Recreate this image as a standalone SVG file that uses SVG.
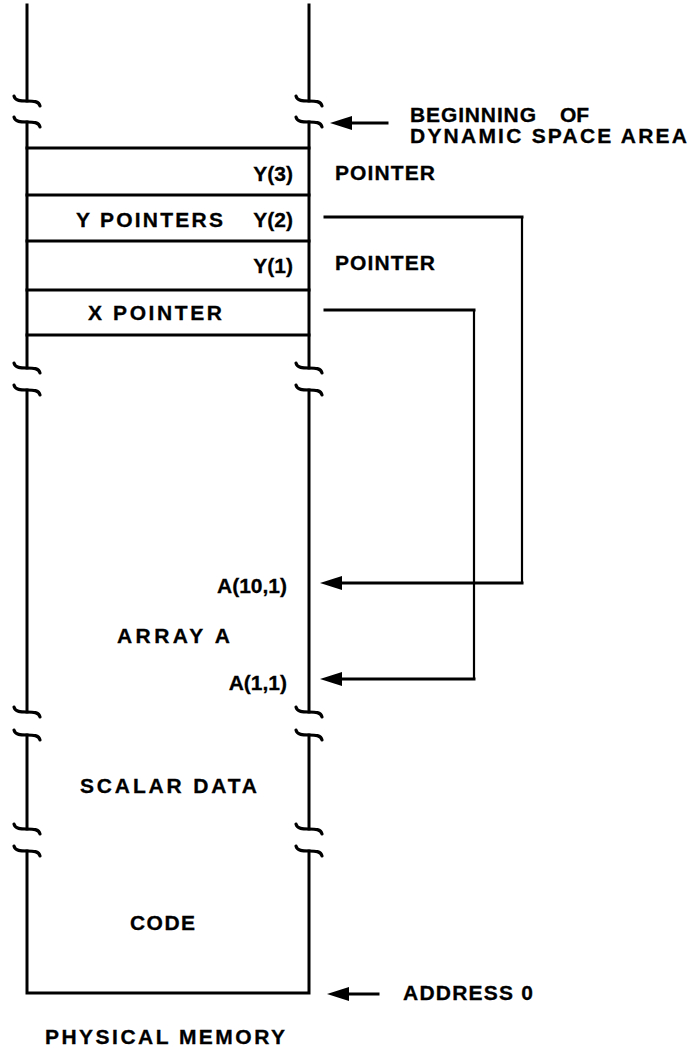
<svg xmlns="http://www.w3.org/2000/svg" xmlns:xlink="http://www.w3.org/1999/xlink" width="696" height="1051" viewBox="0 0 696 1051">
<style>
.ln{stroke:#000;stroke-width:3;fill:none;stroke-linecap:square}
.thin{stroke:#000;stroke-width:2.2;fill:none}
.brk{stroke:#000;stroke-width:3.2;fill:none;stroke-linecap:round}
.t{font-family:"Liberation Sans",Arial,sans-serif;font-weight:bold;font-size:21px;fill:#000;stroke:#000;stroke-width:0.3}
.ah{fill:#000}
</style>
<defs>
<path id="brk" class="brk" d="M-13,-5 C-12,0 -6,0 0,0 C6,0 12,0 13,5"/>
</defs>
<rect width="696" height="1051" fill="#fff"/>
<g id="memory">
<path class="ln" d="M27,5 V101 M27,122 V368 M27,390 V712 M27,735 V829 M27,851 V993 H309 V851 M309,829 V735 M309,712 V390 M309,368 V122 M309,101 V5"/>
<use xlink:href="#brk" x="27" y="101"/><use xlink:href="#brk" x="27" y="122"/>
<use xlink:href="#brk" x="309" y="101"/><use xlink:href="#brk" x="309" y="122"/>
<use xlink:href="#brk" x="27" y="368"/><use xlink:href="#brk" x="27" y="390"/>
<use xlink:href="#brk" x="309" y="368"/><use xlink:href="#brk" x="309" y="390"/>
<use xlink:href="#brk" x="27" y="712"/><use xlink:href="#brk" x="27" y="735"/>
<use xlink:href="#brk" x="309" y="712"/><use xlink:href="#brk" x="309" y="735"/>
<use xlink:href="#brk" x="27" y="829"/><use xlink:href="#brk" x="27" y="851"/>
<use xlink:href="#brk" x="309" y="829"/><use xlink:href="#brk" x="309" y="851"/>
</g>
<g id="dynamic-area">
<path class="ln" d="M27,148 H309 M27,195 H309 M27,241 H309 M27,290 H309 M27,335 H309"/>
<text class="t" x="293" y="181" text-anchor="end">Y(3)</text>
<text class="t" x="76" y="227" textLength="147" lengthAdjust="spacing">Y POINTERS</text>
<text class="t" x="293" y="227" text-anchor="end">Y(2)</text>
<text class="t" x="293" y="273" text-anchor="end">Y(1)</text>
<text class="t" x="88" y="320" textLength="134" lengthAdjust="spacing">X POINTER</text>
</g>
<g id="array-a">
<text class="t" x="287" y="593" text-anchor="end">A(10,1)</text>
<text class="t" x="117" y="643" textLength="113" lengthAdjust="spacing">ARRAY A</text>
<text class="t" x="287" y="690" text-anchor="end">A(1,1)</text>
</g>
<g id="scalar-data">
<text class="t" x="80" y="793" textLength="177" lengthAdjust="spacing">SCALAR DATA</text>
</g>
<g id="code">
<text class="t" x="130" y="930" textLength="65" lengthAdjust="spacing">CODE</text>
</g>
<g id="labels">
<text class="t" x="410" y="122" textLength="126" lengthAdjust="spacing">BEGINNING</text>
<text class="t" x="560" y="122">OF</text>
<text class="t" x="410" y="143" textLength="277" lengthAdjust="spacing">DYNAMIC SPACE AREA</text>
<text class="t" x="335" y="180" textLength="100" lengthAdjust="spacing">POINTER</text>
<text class="t" x="335" y="270" textLength="100" lengthAdjust="spacing">POINTER</text>
<text class="t" x="403" y="1000" textLength="130" lengthAdjust="spacing">ADDRESS 0</text>
<text class="t" x="45" y="1044" textLength="240" lengthAdjust="spacing">PHYSICAL MEMORY</text>
</g>
<g id="connectors">
<path class="ln" d="M346,123 H387"/>
<polygon class="ah" points="330,123 352,116 352,130"/>
<path class="ln" d="M325,217 H522"/>
<path class="thin" d="M522,217 V583"/>
<path class="ln" d="M522,583 H336"/>
<polygon class="ah" points="320,583 342,576 342,590"/>
<path class="ln" d="M325,310 H474"/>
<path class="thin" d="M474,310 V679"/>
<path class="ln" d="M474,679 H336"/>
<polygon class="ah" points="320,679 342,672 342,686"/>
<path class="ln" d="M343,994 H378"/>
<polygon class="ah" points="327,994 349,987 349,1001"/>
</g>
</svg>
